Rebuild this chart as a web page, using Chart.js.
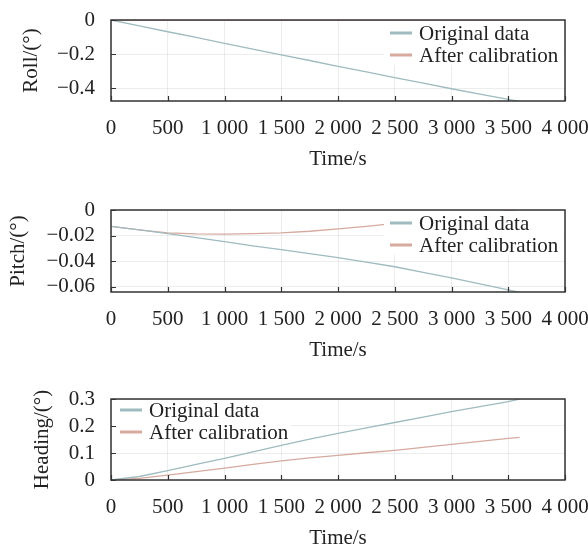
<!DOCTYPE html>
<html>
<head>
<meta charset="utf-8">
<script src="https://cdn.jsdelivr.net/npm/chart.js@4/dist/chart.umd.min.js"></script>
<style>
  html, body { margin:0; padding:0; background:#fff; overflow:hidden; }
  #wrap { position:relative; width:588px; height:551px; }
  canvas { position:absolute; left:0; }
</style>
</head>
<body>
<div id="wrap">
  <canvas id="c1" width="588" height="190" style="top:0px"></canvas>
  <canvas id="c2" width="588" height="190" style="top:190px"></canvas>
  <canvas id="c3" width="588" height="171" style="top:380px"></canvas>
</div>
<script>
// ---- data ----
const times = [0, 250, 500, 750, 1000, 1250, 1500, 1750, 2000, 2250, 2500, 2750, 3000, 3250, 3500, 3600];

const rollOriginal   = [0, -0.034, -0.069, -0.102, -0.137, -0.171, -0.205, -0.238, -0.272, -0.305, -0.338, -0.371, -0.404, -0.436, -0.466, -0.478];
const rollCalibrated = [0, 0, -0.001, 0, -0.001, 0, -0.001, 0, 0, -0.001, 0, 0, -0.001, 0, 0, 0];

const pitchOriginal   = [-0.0128, -0.0155, -0.0185, -0.0215, -0.0247, -0.0280, -0.0310, -0.0340, -0.0372, -0.0406, -0.0443, -0.0486, -0.0530, -0.0576, -0.0623, -0.0643];
const pitchCalibrated = [-0.0128, -0.0155, -0.0178, -0.0186, -0.0188, -0.0184, -0.0179, -0.0166, -0.0148, -0.0128, -0.0105, -0.0080, -0.0055, -0.0030, -0.0005, 0.0005];

const headingOriginal   = [0, 0.013, 0.035, 0.058, 0.080, 0.104, 0.128, 0.151, 0.173, 0.193, 0.213, 0.233, 0.253, 0.272, 0.290, 0.300];
const headingCalibrated = [0, 0.006, 0.018, 0.031, 0.044, 0.058, 0.071, 0.082, 0.091, 0.101, 0.110, 0.121, 0.132, 0.143, 0.154, 0.158];

const xTickValues = [0, 500, 1000, 1500, 2000, 2500, 3000, 3500, 4000];
const xTickLabels = ['0', '500', '1 000', '1 500', '2 000', '2 500', '3 000', '3 500', '4 000'];

const rollTickValues = [-0.4, -0.2, 0];
const rollTickLabels = ['\u22120.4', '\u22120.2', '0'];
const pitchTickValues = [-0.06, -0.04, -0.02, 0];
const pitchTickLabels = ['\u22120.06', '\u22120.04', '\u22120.02', '0'];
const headingTickValues = [0, 0.1, 0.2, 0.3];
const headingTickLabels = ['0', '0.1', '0.2', '0.3'];

const seriesNames = ['Original data', 'After calibration'];
// ---- styles ----
const colOrig = '#9fbbbf';
const colCal = '#d6aa9e';
const FONT = "'Liberation Serif', 'Times New Roman', serif";
Chart.defaults.font.family = FONT;
Chart.defaults.font.size = 21;
Chart.defaults.color = '#222';

const framePlugin = {
  id: 'frame',
  afterDatasetsDraw(chart, args, opts) {
    const {ctx, chartArea: a, scales: {x, y}} = chart;
    ctx.save();
    // legend
    const lg = opts.legend;
    ctx.fillStyle = '#fff';
    ctx.fillRect(lg.bx, a.top + 1, lg.bw, lg.bh);
    chart.data.datasets.forEach((ds, i) => {
      const cy = lg.y + i * 22;
      ctx.strokeStyle = ds.borderColor;
      ctx.lineWidth = 3;
      ctx.beginPath();
      ctx.moveTo(lg.x, cy); ctx.lineTo(lg.x + 22, cy);
      ctx.stroke();
      ctx.fillStyle = '#222';
      ctx.font = '21px ' + FONT;
      ctx.textBaseline = 'middle';
      ctx.textAlign = 'left';
      ctx.fillText(ds.label, lg.x + 29, cy + 1);
    });
    // frame
    ctx.strokeStyle = '#333';
    ctx.lineWidth = 1.5;
    ctx.strokeRect(a.left, a.top, a.width, a.height);
    ctx.lineWidth = 1.2;
    ctx.beginPath();
    x.ticks.forEach(t => {
      const px = Math.round(x.getPixelForValue(t.value)) + 0.5;
      ctx.moveTo(px, a.bottom); ctx.lineTo(px, a.bottom - 5);
    });
    y.ticks.forEach(t => {
      const py = Math.round(y.getPixelForValue(t.value)) + 0.5;
      ctx.moveTo(a.left, py); ctx.lineTo(a.left + 5, py);
    });
    ctx.stroke();
    ctx.restore();
  }
};

function makeChart(id, orig, cal, yMin, yMax, yVals, yLabels, yTitle, yTitlePad, padBottom, padTop, legend) {
  new Chart(document.getElementById(id), {
    type: 'line',
    data: {
      datasets: [
        { label: seriesNames[0], data: times.map((t, i) => ({x: t, y: orig[i]})), borderColor: colOrig, borderWidth: 1.3, pointRadius: 0, tension: 0 },
        { label: seriesNames[1], data: times.map((t, i) => ({x: t, y: cal[i]})), borderColor: colCal, borderWidth: 1.3, pointRadius: 0, tension: 0 }
      ]
    },
    options: {
      responsive: false,
      animation: false,
      layout: { padding: { left: 0, right: 23, top: padTop, bottom: padBottom } },
      plugins: { legend: { display: false }, tooltip: { enabled: false }, frame: { legend } },
      scales: {
        x: {
          type: 'linear', min: 0, max: 4000,
          afterBuildTicks: s => { s.ticks = xTickValues.map(v => ({value: v})); },
          afterFit: s => { s.height = 71; s.paddingLeft = 0; s.paddingRight = 0; },
          ticks: { padding: 15, callback: (v, i) => xTickLabels[i], maxRotation: 0, autoSkip: false },
          grid: { color: 'rgba(0,0,0,0.07)', drawTicks: false },
          border: { display: false },
          title: { display: true, text: 'Time/s', padding: 0 }
        },
        y: {
          type: 'linear', min: yMin, max: yMax,
          afterBuildTicks: s => { s.ticks = yVals.map(v => ({value: v})); },
          afterFit: s => { s.width = 111; s.paddingTop = 0; s.paddingBottom = 0; },
          ticks: { padding: 16, callback: (v, i) => yLabels[i], autoSkip: false },
          grid: { color: 'rgba(0,0,0,0.07)', drawTicks: false },
          border: { display: false },
          title: { display: true, text: yTitle, padding: { top: yTitlePad, bottom: 0 } }
        }
      }
    },
    plugins: [framePlugin]
  });
}

makeChart('c1', rollOriginal, rollCalibrated, -0.476, 0, rollTickValues, rollTickLabels, 'Roll/(\u00b0)', 19, 18, 20,
  { x: 390, y: 33, bx: 384, bw: 180, bh: 44 });
makeChart('c2', pitchOriginal, pitchCalibrated, -0.064, 0, pitchTickValues, pitchTickLabels, 'Pitch/(\u00b0)', 6, 17, 20,
  { x: 390, y: 33, bx: 384, bw: 180, bh: 44 });
makeChart('c3', headingOriginal, headingCalibrated, 0, 0.3, headingTickValues, headingTickLabels, 'Heading/(\u00b0)', 30, 0, 19,
  { x: 120, y: 30, bx: 113, bw: 178, bh: 40 });
</script>
</body>
</html>
